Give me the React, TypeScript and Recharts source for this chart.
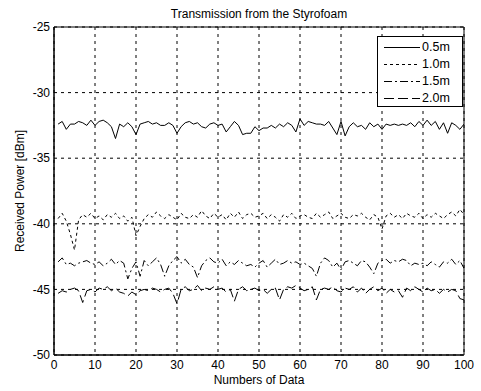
import React from 'react'
import {
  LineChart,
  Line,
  XAxis,
  YAxis,
  CartesianGrid,
  ReferenceArea,
} from 'recharts'

const W = 481
const H = 391
const FONT = '"Liberation Sans", Arial, sans-serif'

// sample number (1..100)
const sampleIndex: number[] = Array.from({ length: 100 }, (_, i) => i + 1)

// received power [dBm] per distance
const power05m: number[] = [
  -32.4, -32.2, -32.8, -32.4, -32.4, -32.2, -32.3, -32.5, -32.1, -32.5,
  -32.2, -32.1, -32.3, -32.6, -33.5, -32.4, -32.6, -32.3, -32.6, -33.2,
  -32.4, -32.3, -32.2, -32.4, -32.3, -32.5, -32.5, -32.3, -32.5, -33.1,
  -32.6, -32.3, -32.2, -32.4, -32.3, -32.6, -32.7, -32.4, -32.3, -32.5,
  -32.4, -33.0, -32.6, -32.2, -32.5, -33.2, -33.1, -33.1, -32.6, -32.9,
  -32.7, -32.7, -32.5, -32.7, -32.4, -32.6, -32.3, -32.5, -33.0, -32.0,
  -32.5, -32.2, -32.3, -32.4, -32.4, -32.5, -32.2, -32.7, -33.2, -32.2,
  -33.3, -32.6, -32.3, -32.6, -32.5, -32.8, -32.3, -32.6, -32.4, -32.8,
  -32.4, -32.5, -32.4, -32.5, -32.4, -32.5, -32.3, -32.6, -32.2, -32.5,
  -32.1, -32.5, -32.2, -32.8, -32.3, -33.1, -32.3, -32.5, -32.8, -32.4,
]

const power10m: number[] = [
  -39.6, -39.2, -39.8, -40.8, -42.0, -39.7, -39.3, -39.5, -39.2, -39.6,
  -39.4, -39.7, -39.3, -39.5, -39.2, -39.6, -39.4, -39.8, -39.5, -40.9,
  -40.2, -39.6, -39.3, -39.5, -39.1, -39.4, -39.6, -39.3, -39.5, -39.7,
  -39.2, -39.5, -39.6, -39.3, -39.5, -39.0, -39.4, -39.6, -39.2, -39.5,
  -39.3, -39.7, -39.2, -39.5, -39.1, -39.6, -39.3, -39.2, -39.5, -39.4,
  -39.2, -39.6, -39.3, -39.5, -39.8, -39.3, -39.5, -39.2, -39.6, -39.4,
  -39.3, -39.5, -39.6, -39.2, -39.5, -39.3, -39.1, -39.6, -39.4, -39.2,
  -39.5, -39.6, -39.3, -39.4, -39.2, -39.5, -39.7, -39.3, -39.5, -40.4,
  -39.4, -39.2, -39.5, -39.3, -39.6, -39.2, -39.4, -39.5, -39.2, -39.6,
  -39.3, -39.5, -39.2, -39.4, -39.6, -39.3, -39.1, -39.4, -38.9, -39.3,
]

const power15m: number[] = [
  -42.9, -42.6, -43.1, -43.0, -43.2, -43.0, -42.9, -42.8, -43.0, -43.1,
  -42.9, -43.2, -43.0, -42.7, -43.1, -42.8, -43.0, -44.2, -43.4, -42.9,
  -44.0, -42.8, -43.2, -42.9, -42.6, -43.1, -44.0, -43.2, -42.8, -42.5,
  -43.0, -42.7, -43.1, -43.3, -44.1, -43.2, -42.8, -42.6, -42.9, -43.0,
  -42.7, -43.2, -42.9, -43.1, -42.8, -43.0, -43.2, -43.1, -43.3, -43.0,
  -42.8, -43.3, -43.0, -42.7, -43.1, -43.0, -42.8, -43.0, -42.9, -43.1,
  -43.0, -43.2, -43.4, -44.0, -43.0, -42.6, -42.8, -43.3, -43.0, -43.5,
  -42.9, -42.8, -43.0, -43.2, -42.8, -42.9, -43.3, -43.8, -43.0, -42.8,
  -42.7, -43.0, -42.8, -42.9, -42.7, -42.8, -43.2, -43.0, -43.1, -43.0,
  -43.2, -42.9, -43.1, -43.3, -42.9, -43.0, -42.7, -43.1, -42.8, -43.4,
]

const power20m: number[] = [
  -45.3, -45.1, -45.2, -45.0, -44.9, -45.1, -46.0, -45.1, -45.0, -45.2,
  -44.9, -45.0, -44.8, -45.1, -44.9, -45.2, -45.3, -45.5, -45.2, -45.4,
  -45.1, -45.0, -45.1, -44.9, -45.0, -45.2, -45.0, -44.9, -45.3, -46.1,
  -45.0, -44.8, -45.1, -45.0, -44.7, -45.1, -44.9, -45.0, -44.8, -45.0,
  -44.9, -45.2, -45.0, -45.9, -45.0, -44.8, -45.1, -45.0, -44.9, -45.1,
  -45.0, -45.3, -45.0, -44.9, -45.8, -45.0, -44.8, -44.9, -44.7, -44.9,
  -45.1, -45.0, -44.8, -45.8, -45.0, -44.9, -45.0, -44.8, -45.1, -45.2,
  -44.9, -45.0, -44.8, -45.2, -44.9, -45.3, -45.0, -44.8, -45.1, -44.9,
  -45.3, -45.0, -45.2, -45.1, -45.6, -44.9, -45.1, -44.8, -45.0, -45.2,
  -44.9, -45.1, -45.0, -45.3, -45.0, -45.2, -45.0, -45.1, -45.7, -45.8,
]

const xTicks = [0, 10, 20, 30, 40, 50, 60, 70, 80, 90, 100]
const yTicks = [-50, -45, -40, -35, -30, -25]

const series = [
  { key: 'p05', name: '0.5m', dash: undefined as string | undefined },
  { key: 'p10', name: '1.0m', dash: '3 3' },
  { key: 'p15', name: '1.5m', dash: '8 3 2 3' },
  { key: 'p20', name: '2.0m', dash: '10 4' },
]

const data = sampleIndex.map((n, i) => ({
  n,
  p05: power05m[i],
  p10: power10m[i],
  p15: power15m[i],
  p20: power20m[i],
}))

const tickStyle = { fill: '#000', fontSize: 12, fontFamily: FONT }

function LegendBox() {
  return (
    <div
      style={{
        position: 'absolute',
        left: 377,
        top: 36,
        width: 86,
        height: 71,
        border: '1px solid #000',
        background: '#fff',
        boxSizing: 'border-box',
        fontFamily: FONT,
        fontSize: 12.5,
        color: '#000',
      }}
    >
      {series.map((s, i) => (
        <div
          key={s.key}
          style={{ position: 'absolute', left: 0, top: 2 + i * 17, height: 17, width: 86 }}
        >
          <svg width={40} height={17} style={{ position: 'absolute', left: 4, top: 0 }}>
            <line x1={2} y1={8.5} x2={38} y2={8.5} stroke="#000" strokeWidth={1} strokeDasharray={s.dash} />
          </svg>
          <span style={{ position: 'absolute', left: 44, top: 1, lineHeight: '15px' }}>{s.name}</span>
        </div>
      ))}
    </div>
  )
}

export default function App() {
  return (
    <div
      style={{
        position: 'absolute',
        left: 0,
        top: 0,
        width: W,
        height: H,
        background: '#fff',
        fontFamily: FONT,
      }}
    >
      <LineChart
        width={W}
        height={H}
        data={data}
        margin={{ top: 27, right: 17, bottom: 0, left: 0 }}
      >
        <CartesianGrid stroke="#000" strokeDasharray="3 4" strokeWidth={1} />
        <XAxis
          dataKey="n"
          type="number"
          domain={[0, 100]}
          ticks={xTicks}
          height={36}
          tickSize={0}
          tickMargin={5}
          tick={tickStyle}
          axisLine={{ stroke: '#000' }}
          allowDataOverflow
        />
        <YAxis
          type="number"
          domain={[-50, -25]}
          ticks={yTicks}
          width={54}
          tickSize={0}
          tickMargin={4}
          tick={tickStyle}
          axisLine={{ stroke: '#000' }}
          allowDataOverflow
        />
        <ReferenceArea x1={0} x2={100} y1={-50} y2={-25} fill="none" stroke="#000" strokeWidth={1} />
        {series.map(s => (
          <Line
            key={s.key}
            dataKey={s.key}
            name={s.name}
            stroke="#000"
            strokeWidth={1}
            strokeDasharray={s.dash}
            dot={false}
            isAnimationActive={false}
          />
        ))}
      </LineChart>

      <div
        style={{
          position: 'absolute',
          left: 54,
          width: 410,
          top: 7,
          textAlign: 'center',
          fontSize: 12,
          color: '#000',
        }}
      >
        Transmission from the Styrofoam
      </div>
      <div
        style={{
          position: 'absolute',
          left: 54,
          width: 410,
          top: 373,
          textAlign: 'center',
          fontSize: 12,
          color: '#000',
        }}
      >
        Numbers of Data
      </div>
      <div
        style={{
          position: 'absolute',
          left: 20,
          top: 191,
          transform: 'translate(-50%, -50%) rotate(-90deg)',
          whiteSpace: 'nowrap',
          fontSize: 12,
          color: '#000',
        }}
      >
        Received Power [dBm]
      </div>
      <LegendBox />
    </div>
  )
}
